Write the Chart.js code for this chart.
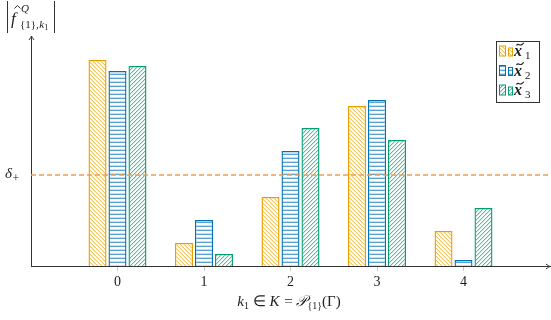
<!DOCTYPE html>
<html lang="en">
<head>
<meta charset="UTF-8" />
<title>Coefficients per k1</title>
<script src="https://cdn.jsdelivr.net/npm/chart.js@4"></script>
<style>
  body { margin: 0; background: #fff; }
  #wrap { width: 551px; height: 320px; position: relative; }
</style>
</head>
<body>
<div id="wrap"><canvas id="myChart"></canvas></div>
<script>
// values
const kValues = [0, 1, 2, 3, 4];
const seriesSubs = ['1', '2', '3'];
const x1Values = [2.06, 0.23, 0.69, 1.60, 0.35];
const x2Values = [1.95, 0.46, 1.15, 1.66, 0.06];
const x3Values = [2.00, 0.12, 1.38, 1.26, 0.58];
const deltaPlus = 0.91;
const xMin = -1, xMax = 5;
const yMax = 2.30;

const serif = 'Liberation Serif';
const axisColor = '#333333';

function hatch(kind, line, light) {
  const s = 4;
  const c = document.createElement('canvas');
  c.width = s; c.height = s;
  const g = c.getContext('2d');
  g.fillStyle = '#ffffff';
  g.fillRect(0, 0, s, s);
  if (kind === 'h') {
    g.fillStyle = light; g.fillRect(0, 1, s, 1);
    g.fillStyle = line; g.fillRect(0, 2, s, 1);
  } else {
    for (let i = 0; i < s; i++) {
      const y = kind === 'nw' ? i : s - 1 - i;
      g.fillStyle = line; g.fillRect(i, y, 1, 1);
      g.fillStyle = light; g.fillRect(i, (y + 1) % s, 1, 1);
    }
  }
  return g.createPattern(c, 'repeat');
}

const ctx = document.getElementById('myChart').getContext('2d');
const colors = ['#E69F00', '#0072B2', '#009E73'];
const fills = [
  hatch('nw', '#f3c55e', '#fbe8c0'),
  hatch('h', '#5aa3d3', '#c3def0'),
  hatch('ne', '#55bc9e', '#c9ebe0')
];
const allValues = [x1Values, x2Values, x3Values];

const barSets = allValues.map((vals, i) => ({
  type: 'bar',
  label: 'x' + seriesSubs[i],
  data: kValues.map((k, j) => ({ x: k, y: vals[j] })),
  backgroundColor: fills[i],
  borderColor: colors[i],
  borderWidth: 1.4,
  categoryPercentage: 0.693,
  barPercentage: 0.9,
  order: 2
}));

const deltaLine = {
  type: 'line',
  label: 'delta',
  data: [{ x: xMin, y: deltaPlus }, { x: xMax, y: deltaPlus }],
  borderColor: '#f29a4e',
  borderWidth: 1.3,
  borderDash: [5, 3],
  pointRadius: 0,
  order: 0
};

function mathText(g, parts, x, baseline) {
  // parts: [text, font, dy, extra gap]
  let cx = x;
  parts.forEach(p => {
    g.font = p[1];
    g.fillText(p[0], cx, baseline + (p[2] || 0));
    cx += g.measureText(p[0]).width + (p[3] || 0);
  });
  return cx;
}
function mathWidth(g, parts) {
  let w = 0;
  parts.forEach(p => { g.font = p[1]; w += g.measureText(p[0]).width + (p[3] || 0); });
  return w;
}

const decor = {
  id: 'decor',
  afterDraw(chart) {
    const g = chart.ctx;
    const a = chart.chartArea;
    const ys = chart.scales.y;
    g.save();
    g.fillStyle = '#222';
    g.strokeStyle = axisColor;
    g.lineWidth = 1;
    g.textAlign = 'left';
    g.textBaseline = 'alphabetic';

    // arrow heads
    const bx = a.left + 0.5, by = a.bottom + 0.5;
    g.beginPath();
    g.moveTo(a.right - 4, by - 2.5); g.quadraticCurveTo(a.right - 1.5, by - 0.5, a.right, by);
    g.quadraticCurveTo(a.right - 1.5, by + 0.5, a.right - 4, by + 2.5);
    g.moveTo(bx - 2.5, a.top + 4); g.quadraticCurveTo(bx - 0.5, a.top + 1.5, bx, a.top);
    g.quadraticCurveTo(bx + 0.5, a.top + 1.5, bx + 2.5, a.top + 4);
    g.stroke();

    // delta_+ tick label
    const dy = ys.getPixelForValue(deltaPlus);
    mathText(g, [['δ', 'italic 15px ' + serif, 0, 0.5], ['+', '12px ' + serif, 4]], 5, dy + 3);

    // y label |f^Q_{{1},k1}|
    g.beginPath();
    g.moveTo(7.5, 1); g.lineTo(7.5, 33);
    g.moveTo(54.5, 1); g.lineTo(54.5, 33);
    g.stroke();
    g.font = 'italic 17px ' + serif;
    g.fillText('f', 11, 24);
    g.beginPath();
    g.moveTo(14.5, 8.5); g.lineTo(17.5, 5.5); g.lineTo(20.5, 8.5);
    g.stroke();
    g.font = 'italic 11px ' + serif;
    g.fillText('Q', 21, 12);
    mathText(g, [['{1},', '11px ' + serif, 0, 0.5], ['k', 'italic 11px ' + serif, 0], ['1', '8px ' + serif, 2]], 20, 28);

    // x title
    const parts = [
      ['k', 'italic 15px ' + serif, 0],
      ['1', '10px ' + serif, 3, 0],
      [' ∈ ', '15px ' + serif, 0],
      ['K', 'italic 15px ' + serif, 0, 1],
      [' = ', '15px ' + serif, 0],
      ['𝒫', 'italic 15px ' + serif, 0],
      ['{1}', '10px ' + serif, 3, 0],
      ['(Γ)', '15px ' + serif, 0]
    ];
    const w = mathWidth(g, parts);
    mathText(g, parts, 289 - w / 2, 306);

    // legend
    g.lineWidth = 1;
    g.strokeStyle = axisColor;
    g.strokeRect(496.5, 41.5, 43, 61);
    chart.data.datasets.filter(d => d.type === 'bar').forEach((d, i) => {
      const cy = 51 + i * 19.5;
      g.fillStyle = d.backgroundColor;
      g.strokeStyle = d.borderColor;
      g.fillRect(499.5, cy - 5, 6, 10);
      g.strokeRect(499.5, cy - 5, 6, 10);
      g.fillRect(508.5, cy - 3, 4, 8);
      g.strokeRect(508.5, cy - 3, 4, 8);
      g.fillStyle = '#222';
      g.font = 'bold italic 16px ' + serif;
      g.fillText('x', 514, cy + 5);
      // tilde
      g.strokeStyle = '#222';
      g.lineWidth = 1.1;
      g.beginPath();
      g.moveTo(516.5, cy - 5.5);
      g.bezierCurveTo(518, cy - 8.5, 520, cy - 4.5, 522, cy - 6.5);
      g.bezierCurveTo(522.8, cy - 7.3, 523.3, cy - 8, 524, cy - 8);
      g.stroke();
      g.lineWidth = 1;
      g.font = '11px ' + serif;
      g.fillText(seriesSubs[i], 525, cy + 8);
    });
    g.restore();
  }
};

new Chart(ctx, {
  data: { datasets: [...barSets, deltaLine] },
  options: {
    responsive: true,
    maintainAspectRatio: false,
    animation: false,
    layout: { padding: { top: 36, right: 1, left: 0, bottom: 0 } },
    plugins: { legend: { display: false }, tooltip: { enabled: false }, title: { display: false } },
    scales: {
      x: {
        type: 'linear',
        min: xMin, max: xMax,
        offset: false,
        grid: { display: true, offset: false, drawOnChartArea: false, drawTicks: true, tickLength: 5, color: '#c8c8c8' },
        border: { display: true, color: axisColor, width: 1 },
        ticks: { font: { family: serif, size: 14 }, color: '#222', padding: 3, callback: v => String(v) },
        afterBuildTicks: s => { s.ticks = kValues.map(v => ({ value: v })); },
        afterFit: s => { s.height = 54; }
      },
      y: {
        min: 0, max: yMax,
        grid: { display: false },
        border: { display: true, color: axisColor, width: 1 },
        ticks: { display: false },
        afterFit: s => { s.width = 31; }
      }
    }
  },
  plugins: [decor]
});
</script>
</body>
</html>
